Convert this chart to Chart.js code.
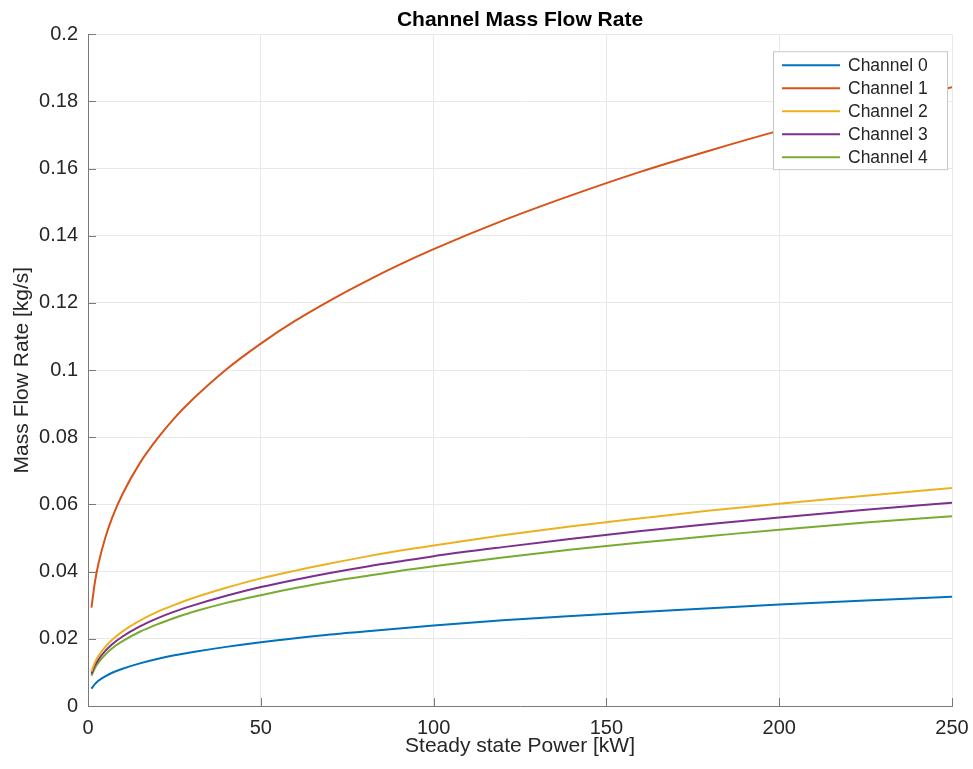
<!DOCTYPE html>
<html>
<head>
<meta charset="utf-8">
<script src="https://cdn.jsdelivr.net/npm/chart.js@4/dist/chart.umd.min.js"></script>
<style>
  html, body { margin: 0; padding: 0; background: #ffffff; }
  #wrap { width: 973px; height: 769px; }
</style>
</head>
<body>
<div id="wrap"><canvas id="c" width="973" height="769"></canvas></div>
<script>
// Steady state power [kW]
const power = [1, 2, 3, 5, 7, 10, 15, 20, 25, 30, 40, 50, 60, 70, 80, 90, 100, 120, 140, 160, 180, 200, 225, 250];

// Mass flow rate per channel [kg/s]
const channel0 = [0.0052, 0.0065, 0.0075, 0.0088, 0.0099, 0.0111, 0.0127, 0.0140, 0.0151, 0.0160, 0.0176, 0.0190, 0.0202, 0.0213, 0.0222, 0.0231, 0.0240, 0.0255, 0.0268, 0.0280, 0.0291, 0.0302, 0.0314, 0.0325];
const channel1 = [0.0293, 0.0369, 0.0423, 0.0501, 0.0561, 0.0631, 0.0723, 0.0795, 0.0857, 0.0910, 0.1002, 0.1079, 0.1147, 0.1207, 0.1262, 0.1313, 0.1360, 0.1445, 0.1521, 0.1591, 0.1654, 0.1713, 0.1780, 0.1842];
const channel2 = [0.0103, 0.0130, 0.0149, 0.0176, 0.0197, 0.0222, 0.0254, 0.0280, 0.0301, 0.0320, 0.0352, 0.0380, 0.0403, 0.0424, 0.0444, 0.0462, 0.0478, 0.0508, 0.0535, 0.0559, 0.0582, 0.0602, 0.0626, 0.0649];
const channel3 = [0.0096, 0.0121, 0.0138, 0.0164, 0.0184, 0.0207, 0.0237, 0.0261, 0.0281, 0.0298, 0.0328, 0.0354, 0.0376, 0.0396, 0.0414, 0.0430, 0.0446, 0.0473, 0.0498, 0.0521, 0.0542, 0.0561, 0.0584, 0.0605];
const channel4 = [0.0090, 0.0113, 0.0129, 0.0153, 0.0172, 0.0193, 0.0221, 0.0243, 0.0262, 0.0279, 0.0307, 0.0330, 0.0351, 0.0370, 0.0386, 0.0402, 0.0416, 0.0442, 0.0466, 0.0487, 0.0506, 0.0525, 0.0546, 0.0565];

const seriesNames = ['Channel 0', 'Channel 1', 'Channel 2', 'Channel 3', 'Channel 4'];
const seriesValues = [channel0, channel1, channel2, channel3, channel4];
const seriesColors = ['#0072BD', '#D95319', '#EDB120', '#7E2F8E', '#77AC30'];

const xTicks = [0, 50, 100, 150, 200, 250];
const yTicks = [0, 0.02, 0.04, 0.06, 0.08, 0.1, 0.12, 0.14, 0.16, 0.18, 0.2];

const FONT = '"Liberation Sans", Arial, Helvetica, sans-serif';
const TEXT = '#262626';

const datasets = seriesNames.map((name, i) => ({
  label: name,
  data: power.map((p, j) => ({ x: p, y: seriesValues[i][j] })),
  borderColor: seriesColors[i],
  backgroundColor: seriesColors[i],
  borderWidth: 2,
  pointRadius: 0,
  fill: false,
  cubicInterpolationMode: 'monotone'
}));

// Inward tick marks on the left and bottom axes
const innerTicks = {
  id: 'innerTicks',
  afterDatasetsDraw(chart) {
    const { ctx, chartArea: a, scales: { x, y } } = chart;
    ctx.save();
    ctx.strokeStyle = '#7a7a7a';
    ctx.lineWidth = 1;
    ctx.beginPath();
    yTicks.forEach(v => {
      const py = Math.round(y.getPixelForValue(v)) + 0.5;
      ctx.moveTo(a.left, py);
      ctx.lineTo(a.left + 8, py);
    });
    xTicks.forEach(v => {
      const px = Math.round(x.getPixelForValue(v)) + 0.5;
      ctx.moveTo(px, a.bottom);
      ctx.lineTo(px, a.bottom - 8);
    });
    ctx.stroke();
    ctx.restore();
  }
};

// Legend box in the upper right of the plot area
const boxLegend = {
  id: 'boxLegend',
  afterDraw(chart) {
    const { ctx, chartArea: a } = chart;
    const left = a.right - 179, top = a.top + 17, w = 174, h = 118;
    ctx.save();
    ctx.fillStyle = '#ffffff';
    ctx.fillRect(left, top, w, h);
    ctx.strokeStyle = '#c8c8c8';
    ctx.lineWidth = 1;
    ctx.strokeRect(left + 0.5, top + 0.5, w, h);
    ctx.font = '17.5px ' + FONT;
    ctx.textBaseline = 'middle';
    ctx.textAlign = 'left';
    chart.data.datasets.forEach((ds, i) => {
      const cy = top + 14 + i * 23;
      ctx.strokeStyle = ds.borderColor;
      ctx.lineWidth = 2;
      ctx.beginPath();
      ctx.moveTo(left + 9, cy);
      ctx.lineTo(left + 67, cy);
      ctx.stroke();
      ctx.fillStyle = TEXT;
      ctx.fillText(ds.label, left + 75, cy + 1);
    });
    ctx.restore();
  }
};

new Chart(document.getElementById('c'), {
  type: 'line',
  data: { datasets },
  plugins: [innerTicks, boxLegend],
  options: {
    responsive: false,
    animation: false,
    layout: { padding: 0 },
    plugins: {
      legend: { display: false },
      tooltip: { enabled: false },
      title: {
        display: true,
        fullSize: false,
        text: 'Channel Mass Flow Rate',
        color: '#000000',
        font: { family: FONT, size: 21, weight: 'bold', lineHeight: 1.2 },
        padding: { top: 8, bottom: 1 }
      }
    },
    scales: {
      x: {
        type: 'linear',
        min: 0,
        max: 250,
        afterBuildTicks: s => { s.ticks = xTicks.map(v => ({ value: v })); },
        afterFit: s => { s.height = 63; s.paddingLeft = 0; s.paddingRight = 21; },
        ticks: {
          color: TEXT,
          padding: 10,
          maxRotation: 0,
          font: { family: FONT, size: 20 },
          callback: v => String(v)
        },
        grid: { color: '#e8e8e8', drawTicks: false, lineWidth: 1 },
        border: { display: true, color: '#7a7a7a', width: 1 },
        title: {
          display: true,
          text: 'Steady state Power [kW]',
          color: TEXT,
          font: { family: FONT, size: 21, lineHeight: 1.2 },
          padding: { top: 0, bottom: 10 }
        }
      },
      y: {
        type: 'linear',
        min: 0,
        max: 0.2,
        afterBuildTicks: s => { s.ticks = yTicks.map(v => ({ value: v })); },
        afterFit: s => { s.width = 88; },
        ticks: {
          color: TEXT,
          padding: 10,
          font: { family: FONT, size: 20 },
          callback: v => String(+Number(v).toFixed(2))
        },
        grid: { color: '#e8e8e8', drawTicks: false, lineWidth: 1 },
        border: { display: true, color: '#7a7a7a', width: 1 },
        title: {
          display: true,
          text: 'Mass Flow Rate [kg/s]',
          color: TEXT,
          font: { family: FONT, size: 21, lineHeight: 1.2 },
          padding: { top: 10, bottom: 0 }
        }
      }
    }
  }
});
</script>
</body>
</html>
